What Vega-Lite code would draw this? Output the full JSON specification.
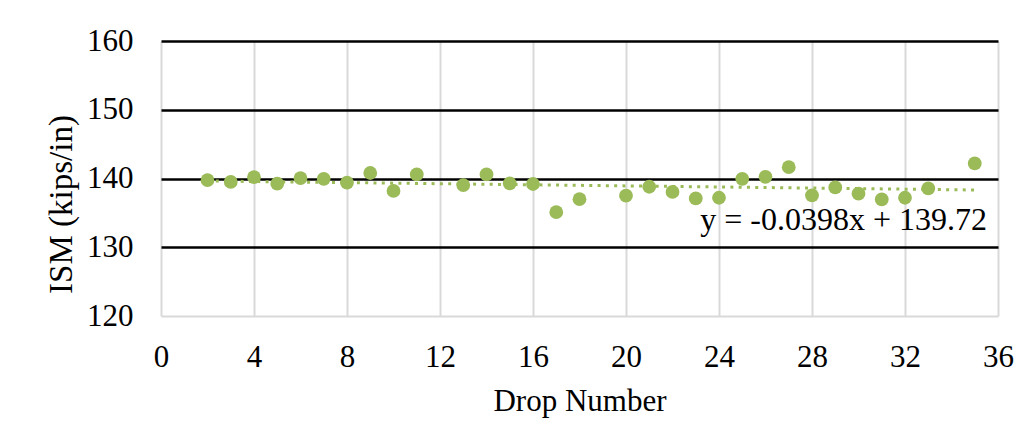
{
  "$schema": "https://vega.github.io/schema/vega-lite/v6.json",
  "autosize": {"type": "none"},
  "width": 837,
  "height": 275,
  "padding": {"left": 161, "top": 41, "right": 33, "bottom": 128},
  "background": "white",
  "config": {
    "view": {"stroke": null},
    "font": "Liberation Serif",
    "axis": {
      "labelFont": "Liberation Serif",
      "titleFont": "Liberation Serif",
      "labelColor": "black",
      "titleColor": "black",
      "titleFontWeight": "normal",
      "domain": false,
      "ticks": false,
      "tickSize": 0
    }
  },
  "datasets": {
    "points": [
      {"drop": 2, "ism": 139.75},
      {"drop": 3, "ism": 139.5},
      {"drop": 4, "ism": 140.2},
      {"drop": 5, "ism": 139.25},
      {"drop": 6, "ism": 140.05},
      {"drop": 7, "ism": 139.95},
      {"drop": 8, "ism": 139.4},
      {"drop": 9, "ism": 140.8},
      {"drop": 10, "ism": 138.2},
      {"drop": 11, "ism": 140.6},
      {"drop": 13, "ism": 139.05},
      {"drop": 14, "ism": 140.6},
      {"drop": 15, "ism": 139.3},
      {"drop": 16, "ism": 139.2},
      {"drop": 17, "ism": 135.1},
      {"drop": 18, "ism": 137.0},
      {"drop": 20, "ism": 137.5},
      {"drop": 21, "ism": 138.8},
      {"drop": 22, "ism": 138.05},
      {"drop": 23, "ism": 137.1},
      {"drop": 24, "ism": 137.2},
      {"drop": 25, "ism": 139.95},
      {"drop": 26, "ism": 140.25},
      {"drop": 27, "ism": 141.65},
      {"drop": 28, "ism": 137.55},
      {"drop": 29, "ism": 138.7},
      {"drop": 30, "ism": 137.8},
      {"drop": 31, "ism": 136.95},
      {"drop": 32, "ism": 137.2},
      {"drop": 33, "ism": 138.55},
      {"drop": 35, "ism": 142.2}
    ],
    "trend": [
      {"drop": 2, "ism": 139.64},
      {"drop": 35, "ism": 138.33}
    ],
    "label": [
      {"drop": 35.53, "ism": 132.5, "text": "y = -0.0398x + 139.72"}
    ]
  },
  "layer": [
    {
      "data": {"name": "trend"},
      "mark": {"type": "line", "color": "#9BBB59", "strokeWidth": 3, "strokeDash": [3, 5.3]},
      "encoding": {
        "x": {
          "field": "drop",
          "type": "quantitative",
          "scale": {"domain": [0, 36], "nice": false, "zero": false},
          "axis": {
            "title": "Drop Number",
            "values": [0, 4, 8, 12, 16, 20, 24, 28, 32, 36],
            "grid": true,
            "gridColor": "#d9d9d9",
            "gridWidth": 2,
            "labelFontSize": 31,
            "labelBaseline": "alphabetic",
            "labelPadding": 50,
            "labelFlush": false,
            "titleFontSize": 31,
            "titleBaseline": "alphabetic",
            "titleY": 94
          }
        },
        "y": {
          "field": "ism",
          "type": "quantitative",
          "scale": {"domain": [120, 160], "nice": false, "zero": false},
          "axis": {
            "title": "ISM (kips/in)",
            "values": [120, 125, 130, 135, 140, 145, 150, 155, 160],
            "labelExpr": "datum.value % 10 === 0 ? datum.label : ''",
            "grid": true,
            "gridColor": {"condition": {"test": "datum.value % 10 === 0 && datum.value !== 120", "value": "black"}, "value": "#d9d9d9"},
            "gridWidth": {"condition": {"test": "datum.value % 10 === 0 && datum.value !== 120", "value": 2.5}, "value": 2},
            "labelFontSize": 31,
            "labelPadding": 28,
            "labelFlush": false,
            "titleFontSize": 33,
            "titleBaseline": "alphabetic",
            "titleAngle": -90,
            "titleX": -90,
            "titleY": 163
          }
        }
      }
    },
    {
      "data": {"name": "points"},
      "mark": {"type": "point", "shape": "circle", "filled": true, "opacity": 1, "size": 190, "color": "#9BBB59"},
      "encoding": {
        "x": {"field": "drop", "type": "quantitative"},
        "y": {"field": "ism", "type": "quantitative"}
      }
    },
    {
      "data": {"name": "label"},
      "mark": {"type": "text", "align": "right", "baseline": "alphabetic", "fontSize": 32, "font": "Liberation Serif", "color": "black"},
      "encoding": {
        "x": {"field": "drop", "type": "quantitative"},
        "y": {"field": "ism", "type": "quantitative"},
        "text": {"field": "text"}
      }
    }
  ]
}
